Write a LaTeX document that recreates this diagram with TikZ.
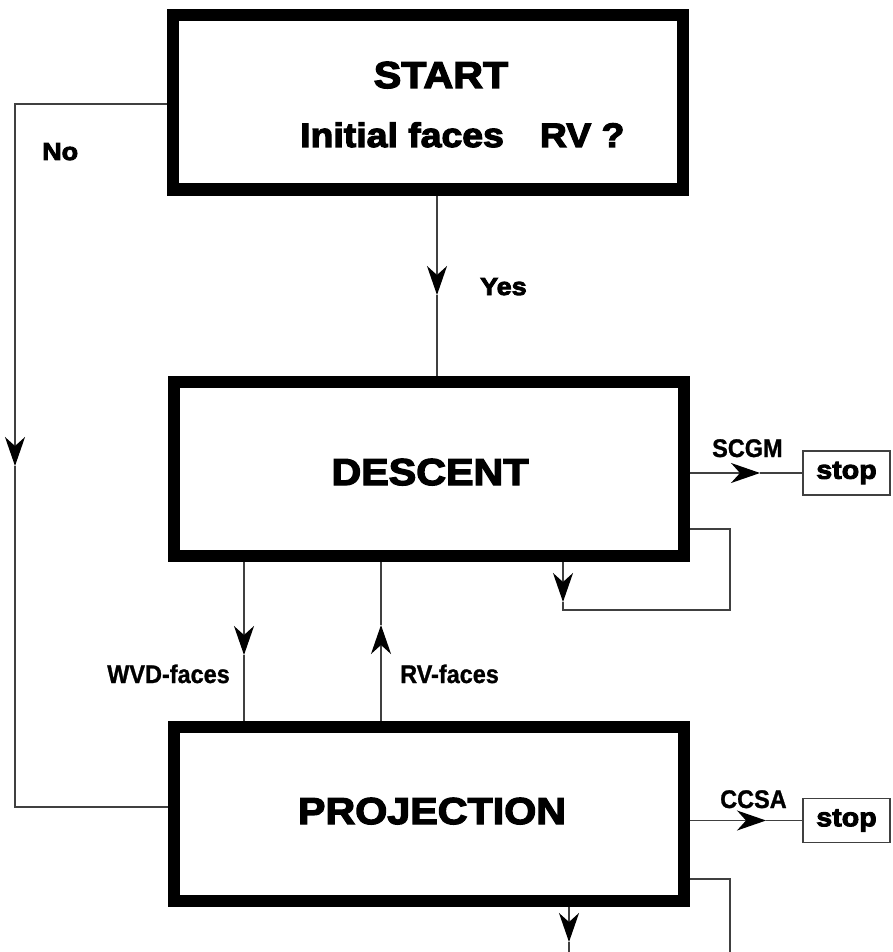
\documentclass[tikz,border=0pt]{standalone}
\usepackage{fontspec}
\setmainfont{Liberation Sans}
\newfontfamily\heavyfont{Liberation Sans Bold}[FakeBold=3.5,FakeStretch=1.1]
\newfontfamily\labelfont{Liberation Sans Bold}[FakeBold=1,FakeStretch=0.92]
\usetikzlibrary{arrows.meta}
\begin{document}
\begin{tikzpicture}[x=1pt,y=-1pt,
  thickbox/.style={draw=black, line width=12pt, minimum width=510pt, minimum height=174pt, inner sep=0pt, outer sep=6pt},
  stopbox/.style={draw=black!75, line width=1.2pt, fill=white, minimum width=87pt, minimum height=44pt, inner sep=0pt, font=\heavyfont\fontsize{26}{26}\selectfont},
  conn/.style={draw=black!75, line width=1.3pt},
  arr/.style={conn, -{Stealth[length=29pt,width=20pt,inset=9pt,black]}},
  heading/.style={inner sep=0pt, anchor=base, font=\heavyfont\fontsize{37.5}{37.5}\selectfont},
  heavylabel/.style={inner sep=0pt, font=\heavyfont\fontsize{24.5}{24.5}\selectfont},
  smalllabel/.style={inner sep=0pt, font=\labelfont\fontsize{25.5}{25.5}\selectfont}]
\fill[white] (0,0) rectangle (892,952);
\useasboundingbox (0,0) rectangle (892,952);

% boxes
\node[thickbox] (start) at (428,102.5) {};
\node[thickbox] (descent) at (428.5,469) {};
\node[thickbox] (projection) at (428.5,813.5) {};
\node[stopbox] (stop1) at (846.5,473) {stop};
\node[stopbox] (stop2) at (846.5,820.5) {stop};

% box texts
\node[heading] (tstart) at (441,88) {START};
\node[inner sep=0pt, anchor=base west, font=\heavyfont\fontsize{34}{34}\selectfont] (tinit) at (300,147) {Initial faces\hspace{36pt}RV ?};
\node[heading] (tdescent) at (430,485) {DESCENT};
\node[heading] (tproj) at (432,824) {PROJECTION};

% coordinates
\coordinate (a1) at (437,295);
\coordinate (l1) at (15,104);
\coordinate (l2) at (15,466);
\coordinate (l3) at (15,807);
\coordinate (w1) at (244,655);
\coordinate (r1) at (381,625);
\coordinate (s1) at (760,473);
\coordinate (s2) at (766,820.5);
\coordinate (dl1) at (563,602);
\coordinate (dl2) at (563,610);
\coordinate (dl3) at (730,610);
\coordinate (dl4) at (730,529);
\coordinate (pl1) at (730,879);
\coordinate (pl2) at (730,952);
\coordinate (pb1) at (569,942);
\coordinate (pb2) at (569,952);

% connectors
\draw[arr] (start.south -| a1) -- (a1);
\draw[conn] (a1) -- (descent.north -| a1);

\draw[arr] (start.west |- l1) -- (l1) -- (l2);
\draw[conn] (l2) -- (l3) -- (projection.west |- l3);

\draw[arr] (descent.south -| w1) -- (w1);
\draw[conn] (w1) -- (projection.north -| w1);

\draw[arr] (projection.north -| r1) -- (r1);
\draw[conn] (r1) -- (descent.south -| r1);

\draw[arr] (descent.east |- s1) -- (s1);
\draw[conn] (s1) -- (stop1.west);

\draw[arr] (projection.east |- s2) -- (s2);
\draw[conn] (s2) -- (stop2.west);

\draw[arr] (descent.south -| dl1) -- (dl1);
\draw[conn] (dl1) -- (dl2) -- (dl3) -- (dl4) -- (descent.east |- dl4);

\draw[conn] (projection.east |- pl1) -- (pl1) -- (pl2);
\draw[arr] (projection.south -| pb1) -- (pb1);
\draw[conn] (pb1) -- (pb2);

% labels
\node[heavylabel, anchor=base west] (lno) at (42,160) {No};
\node[heavylabel, anchor=base west] (lyes) at (480,295) {Yes};
\node[smalllabel, anchor=base west] (lscgm) at (712,457) {SCGM};
\node[smalllabel, anchor=base west] (lccsa) at (720,808) {CCSA};
\node[smalllabel, anchor=base east] (lwvd) at (230,683) {WVD-faces};
\node[smalllabel, anchor=base west] (lrv) at (400,683) {RV-faces};
\end{tikzpicture}
\end{document}
